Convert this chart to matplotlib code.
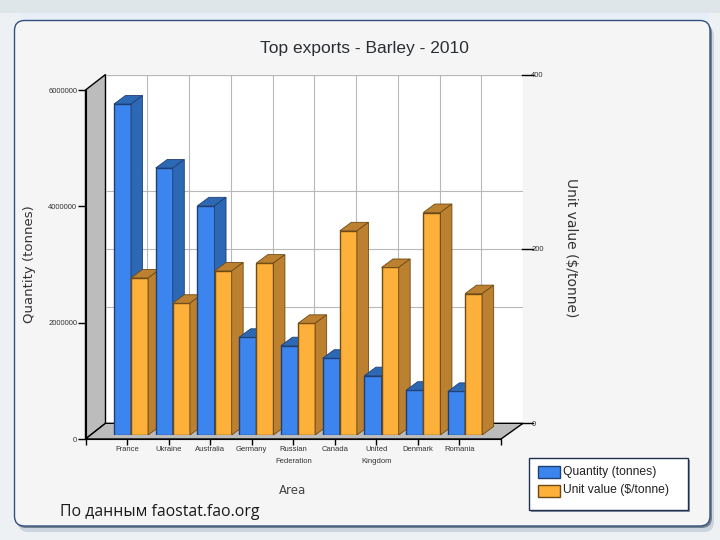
import matplotlib
matplotlib.use("Agg")
import matplotlib.pyplot as plt
from matplotlib.patches import FancyBboxPatch, Polygon, Rectangle

AREAS = ["France", "Ukraine", "Australia", "Germany", "Russian\nFederation",
         "Canada", "United\nKingdom", "Denmark", "Romania"]
QUANTITY = [5690000, 4590000, 3940000, 1680000, 1535000, 1320000, 1020000, 770000, 750000]
UNIT_VALUE = [180, 151, 188, 197, 128, 234, 192, 255, 162]
LEFT_TICKS = [0, 2000000, 4000000, 6000000]
RIGHT_TICKS = [0, 200, 400]

W, H = 720, 540
QTY_MAX = 6000000
UNIT_MAX = 400
BAR_W = 0.41
DEPTH_X = 11.5 / 41.75
DEPTH_Y = 8.5 / 349 * QTY_MAX

BLUE, BLUE_SIDE, BLUE_EDGE = "#3d85ee", "#2d68b4", "#1f3f72"
ORANGE, ORANGE_SIDE, ORANGE_EDGE = "#fdb03a", "#bb8030", "#6e4a14"
TICK_FONT = "Liberation Sans"


def axes_px(fig, x0, y0, x1, y1, **kw):
    # y values are counted from the top of the picture
    return fig.add_axes([x0 / W, 1 - y1 / H, (x1 - x0) / W, (y1 - y0) / H], **kw)


def draw_bar(ax, x, h, color, side, edge, z):
    ax.bar(x, h, BAR_W, color=color, edgecolor=edge, linewidth=1, zorder=z)
    x0, x1 = x - BAR_W / 2, x + BAR_W / 2
    top = [(x0, h), (x0 + DEPTH_X, h + DEPTH_Y), (x1 + DEPTH_X, h + DEPTH_Y), (x1, h)]
    right = [(x1, 0), (x1 + DEPTH_X, DEPTH_Y), (x1 + DEPTH_X, h + DEPTH_Y), (x1, h)]
    ax.add_patch(Polygon(top, facecolor=side, edgecolor=edge, linewidth=0.6, zorder=z))
    ax.add_patch(Polygon(right, facecolor=side, edgecolor=edge, linewidth=0.6, zorder=z))


def plot():
    fig = plt.figure(figsize=(W / 100, H / 100), dpi=100, facecolor="#eef1f4")

    # slide background and panel
    bg = axes_px(fig, 0, 0, W, H)
    bg.set_xlim(0, W)
    bg.set_ylim(H, 0)
    bg.axis("off")
    bg.add_patch(Rectangle((0, 0), W, 13, facecolor="#dfe6ea", edgecolor="none"))
    bg.add_patch(Rectangle((20, 13), W - 30, 8, facecolor="#e6eff8", edgecolor="none"))
    bg.add_patch(FancyBboxPatch((18, 26), 696, 506, boxstyle="round,pad=0,rounding_size=10",
                                facecolor="#ccd5dd", edgecolor="none"))
    bg.add_patch(FancyBboxPatch((16, 23), 696, 505, boxstyle="round,pad=0,rounding_size=10",
                                facecolor="#77838f", edgecolor="none"))
    bg.add_patch(FancyBboxPatch((14.5, 20.5), 695.5, 505.5, boxstyle="round,pad=0,rounding_size=10",
                                facecolor="#f5f5f6", edgecolor="#34507f", linewidth=1))

    # walls and floor
    bg.add_patch(Polygon([(105.5, 74.5), (523, 74.5), (523, 423.3), (105.5, 423.3)],
                         facecolor="white", edgecolor="none"))
    bg.add_patch(Polygon([(85.5, 90), (105.5, 74.5), (105.5, 423.3), (85.5, 439)],
                         facecolor="#bcbcbc", edgecolor="black", linewidth=1))
    bg.add_patch(Polygon([(85.5, 439), (105.5, 423.3), (523, 423.3), (501, 439)],
                         facecolor="#bcbcbc", edgecolor="black", linewidth=1))

    # back wall grid
    back = axes_px(fig, 105.5, 74.5, 523, 423.3)
    back.patch.set_alpha(0)
    back.set_xlim(0, 10)
    back.set_ylim(0, QTY_MAX)
    back.set_xticks(range(1, 11))
    back.set_yticks([2000000, 4000000, 6000000])
    back.grid(color="#b8b8b8", linewidth=0.8)
    back.tick_params(length=0, labelleft=False, labelbottom=False)
    for s in back.spines.values():
        s.set_visible(False)
    right = back.twinx()
    right.set_ylim(0, UNIT_MAX)
    right.set_yticks(RIGHT_TICKS)
    right.set_yticklabels([str(v) for v in RIGHT_TICKS], fontsize=5.5, color="#333333", family=TICK_FONT)
    right.tick_params(length=0, pad=6)
    right.grid(axis="y", color="#b8b8b8", linewidth=0.8)
    for s in right.spines.values():
        s.set_visible(False)
    for v in RIGHT_TICKS:
        right.plot([0.997, 1.025], [v, v], color="black", linewidth=1, clip_on=False,
                   transform=right.get_yaxis_transform())
    right.set_xlim(0, 10)

    # front axis carries the left and bottom scales
    front = axes_px(fig, 85.5, 90, 501, 439)
    front.patch.set_alpha(0)
    front.set_xlim(0, 10)
    front.set_ylim(0, QTY_MAX)
    front.set_xticks(range(0, 11))
    front.set_xticklabels([""] + AREAS + [""], fontsize=5.5, color="#333333", linespacing=2.1,
                          family=TICK_FONT)
    front.set_yticks(LEFT_TICKS)
    front.set_yticklabels([str(v) for v in LEFT_TICKS], fontsize=5.5, color="#333333", family=TICK_FONT)
    front.tick_params(axis="x", length=4, width=1, pad=1)
    front.tick_params(axis="y", length=6, width=1, pad=0)
    for name in ("top", "right"):
        front.spines[name].set_visible(False)

    # bars sit a few pixels behind the front axis
    bars = axes_px(fig, 89.3, 86, 506.8, 435)
    bars.patch.set_alpha(0)
    bars.axis("off")
    bars.set_xlim(0, 10)
    bars.set_ylim(0, QTY_MAX)
    z = 3
    for i, (q, u) in enumerate(zip(QUANTITY, UNIT_VALUE)):
        x = i + 1
        draw_bar(bars, x - BAR_W / 2, q, BLUE, BLUE_SIDE, BLUE_EDGE, z)
        draw_bar(bars, x + BAR_W / 2, u * QTY_MAX / UNIT_MAX, ORANGE, ORANGE_SIDE, ORANGE_EDGE, z + 1)
        z += 2

    # texts
    txt = axes_px(fig, 0, 0, W, H)
    txt.patch.set_alpha(0)
    txt.set_xlim(0, W)
    txt.set_ylim(H, 0)
    txt.axis("off")
    txt.text(364, 49, "Top exports - Barley - 2010", fontsize=12.5, ha="center", va="center",
             color="#2b2f33", family="Liberation Sans")
    txt.text(293, 491, "Area", fontsize=8.5, ha="center", va="center", color="#444444")
    txt.text(29, 264, "Quantity (tonnes)", fontsize=9.5, rotation=90, ha="center", va="center",
             color="#333333")
    txt.text(571, 248, "Unit value ($/tonne)", fontsize=10, rotation=270, ha="center", va="center",
             color="#333333")
    txt.text(60, 512, "По данным faostat.fao.org", fontsize=11.4, ha="left", va="center",
             color="#1a1a1a", family="Open Sans")

    # legend box
    txt.add_patch(Rectangle((531, 460), 159, 52, facecolor="#8a94a0", edgecolor="none"))
    txt.add_patch(Rectangle((528.5, 457.5), 159, 52, facecolor="white", edgecolor="#1f3050", linewidth=1))
    txt.add_patch(Rectangle((537.5, 466), 22, 12, facecolor=BLUE, edgecolor=BLUE_EDGE, linewidth=1))
    txt.add_patch(Rectangle((537.5, 484.5), 22, 12, facecolor=ORANGE, edgecolor=ORANGE_EDGE, linewidth=1))
    txt.text(563, 472, "Quantity (tonnes)", fontsize=8.7, va="center", color="#222222", family=TICK_FONT)
    txt.text(563, 490.5, "Unit value ($/tonne)", fontsize=8.7, va="center", color="#222222", family=TICK_FONT)

    plt.savefig("out.png", dpi=100)


if __name__ == "__main__":
    plot()
